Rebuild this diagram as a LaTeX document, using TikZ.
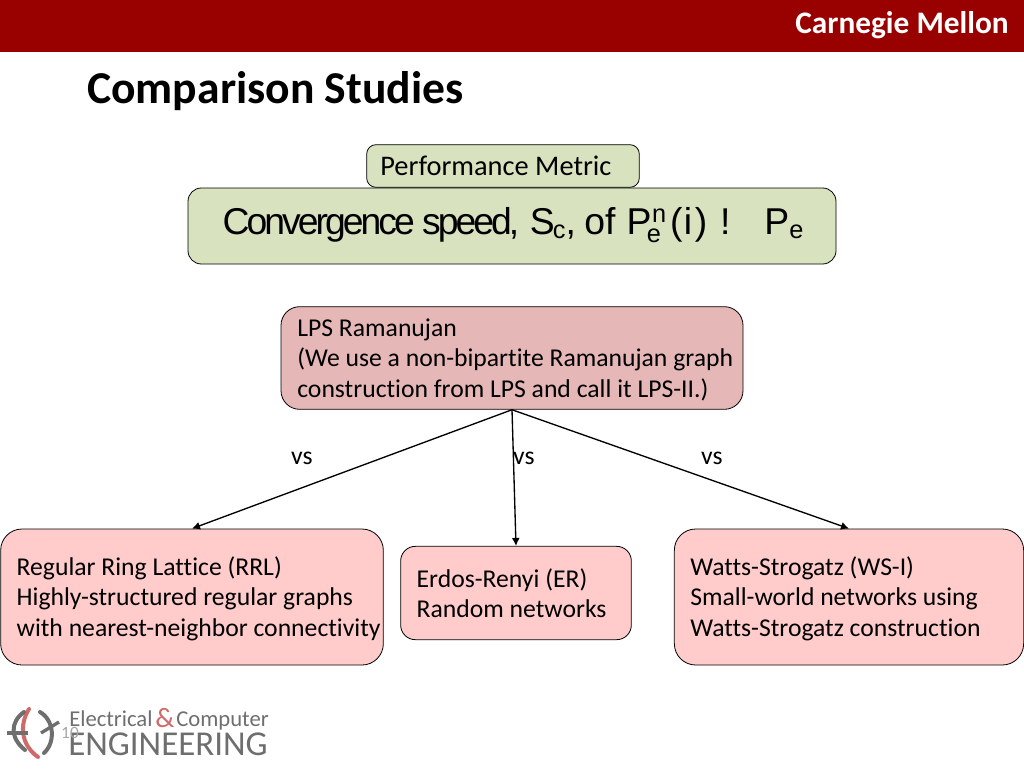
\documentclass[tikz,border=0pt]{standalone}
\usepackage{fontspec}
\usetikzlibrary{arrows.meta}
\setmainfont{Carlito}[Ligatures=CommonOff]
\newfontfamily\formfont[LetterSpace=-8]{Liberation Sans}
\newfontfamily\arialfont{Liberation Sans}
\definecolor{headred}{HTML}{990000}
\definecolor{metricgreen}{HTML}{D8E2BE}
\definecolor{lpsrose}{HTML}{E6B7B7}
\definecolor{boxpink}{HTML}{FFCBCB}
\definecolor{logogray}{HTML}{6E6E6E}
\definecolor{logored}{HTML}{D06A6A}
\newcommand{\subsize}{\fontsize{19}{22}\selectfont}
\tikzset{
  every node/.style={font=\fontsize{19.25}{22.9}\selectfont},
  roundbox/.style={draw=black, line width=0.6pt, rounded corners=14pt, align=left, anchor=center, inner sep=0pt},
  vslabel/.style={anchor=center},
  vsarrow/.style={line width=1pt, -{Latex[length=6pt, width=6pt]}},
}
\begin{document}
\begin{tikzpicture}[x=0.75pt, y=-0.75pt]
  \useasboundingbox (0,0) rectangle (1024,768);
  \fill[headred] (0,0) rectangle (1024,52);
  \node[anchor=east, text=white, inner sep=0pt, font=\fontsize{23.5}{26}\selectfont\bfseries] (brand) at (1009,25) {Carnegie Mellon};
  \node[anchor=base west, inner sep=0pt, font=\fontsize{34.2}{38}\selectfont\bfseries] (title) at (87,103.5) {Comparison Studies};

  \node[roundbox, fill=metricgreen, rounded corners=7pt, minimum width=204.5pt, minimum height=32pt] (metric) at (503,166) {\makebox[184pt][l]{\fontsize{21.3}{24}\selectfont Performance Metric}};
  \node[roundbox, fill=metricgreen, rounded corners=10pt, minimum width=486pt, minimum height=57pt] (speed) at (512,226)
    {\raisebox{-6.25pt}[0pt][0pt]{\makebox[434pt][l]{\fontsize{28}{30}\selectfont\formfont Convergence speed,\hspace{8pt}\arialfont S\hspace{-1.5pt}\raisebox{-3pt}{\subsize c},\hspace{-1.5pt} of \hspace{0.5pt}P\hspace{-3.5pt}\rlap{\raisebox{-6pt}{\subsize e}}\raisebox{9pt}{\hspace{4pt}\subsize n}\hspace{3pt}(\hspace{1pt}i\hspace{2pt})\hspace{9.5pt}!\hspace{25.5pt}P\raisebox{-3pt}{\subsize e}}}};

  \node[roundbox, fill=lpsrose, minimum width=346.5pt, minimum height=77pt] (lps) at (512,358)
    {\raisebox{-6.3pt}[0pt][0pt]{\makebox[322pt][l]{\parbox{340pt}{LPS Ramanujan\\(We use a non-bipartite Ramanujan graph\\construction from LPS and call it LPS-II.)}}}};

  \node[roundbox, fill=boxpink, rounded corners=16pt, minimum width=287pt, minimum height=102pt] (rrl) at (192,597)
    {\raisebox{-6.3pt}[0pt][0pt]{\makebox[263pt][l]{\parbox{285pt}{Regular Ring Lattice (RRL)\\Highly-structured regular graphs\\with nearest-neighbor connectivity}}}};
  \node[roundbox, fill=boxpink, rounded corners=11pt, minimum width=173pt, minimum height=70pt] (er) at (516,593)
    {\makebox[149pt][l]{\parbox{149pt}{Erdos-Renyi (ER)\\Random networks}}};
  \node[roundbox, fill=boxpink, rounded corners=16pt, minimum width=262pt, minimum height=102pt] (ws) at (849,597)
    {\raisebox{-6.3pt}[0pt][0pt]{\makebox[238pt][l]{\parbox{238pt}{Watts-Strogatz (WS-I)\\Small-world networks using\\Watts-Strogatz construction}}}};

  \draw[vsarrow] (lps.south) -- (rrl.north);
  \draw[vsarrow] (lps.south) -- (er.north);
  \draw[vsarrow] (lps.south) -- (ws.north);

  \node[vslabel] (vsa) at (302,458) {vs};
  \node[vslabel] (vsb) at (524,458) {vs};
  \node[vslabel] (vsc) at (712,458) {vs};

  % logo
  \draw[logored, line width=3pt, line cap=round] (29,709) .. controls (19,725) and (21,745) .. (38,757);
  \draw[logogray, line width=3pt, line cap=round] (24,712) .. controls (10,722) and (10,738) .. (25,750);
  \draw[logogray, line width=2.5pt] (7,733) -- (28,733);
  \draw[logogray, line width=3pt, line cap=round] (40,712) .. controls (54,720) and (56,742) .. (44,753);
  \draw[logogray, line width=2.5pt] (41,733) -- (59,722);
  \node[anchor=base west, inner sep=0pt, text=logogray, font=\fontsize{17}{20}\selectfont] (elec) at (69,726) {Electrical};
  \node[anchor=base west, inner sep=0pt, text=logored, font=\fontsize{21}{24}\selectfont] (amp) at (155,727) {\&};
  \node[anchor=base west, inner sep=0pt, text=logogray, font=\fontsize{17}{20}\selectfont] (comp) at (176,726) {Computer};
  \node[anchor=base west, inner sep=0pt, text=logogray, font=\fontsize{26.2}{30}\selectfont] (engi) at (68,755) {ENGINEERING};
  \node[text=gray!70, font=\fontsize{13}{15}\selectfont] (page) at (70,733) {10};
\end{tikzpicture}
\end{document}
